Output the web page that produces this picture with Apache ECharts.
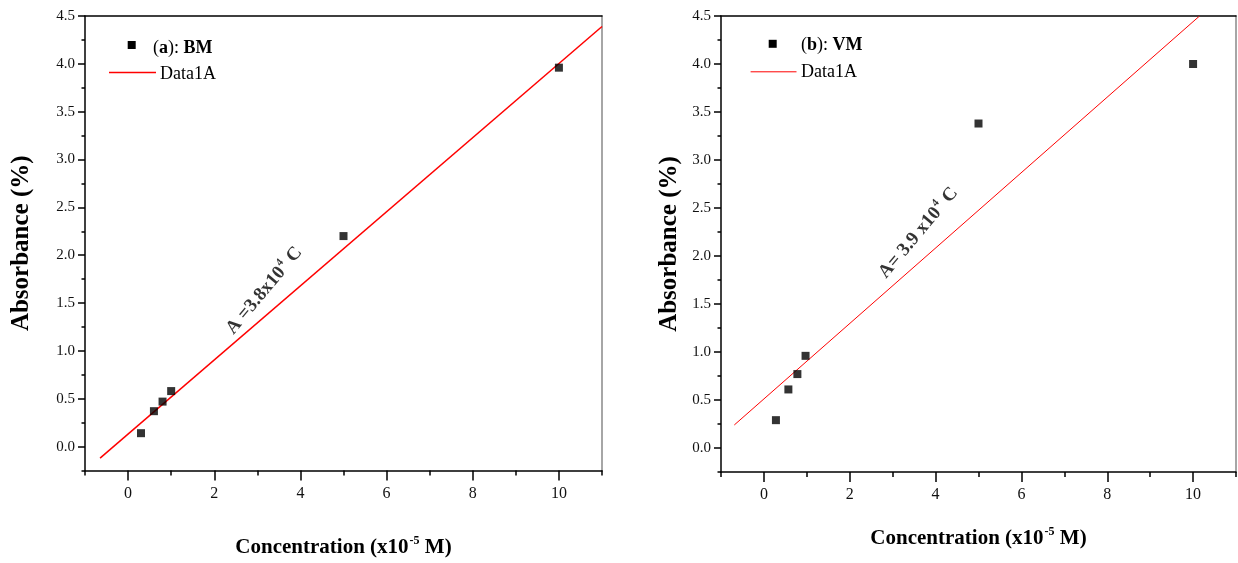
<!DOCTYPE html>
<html>
<head>
<meta charset="utf-8">
<script src="https://cdn.jsdelivr.net/npm/echarts@6/dist/echarts.min.js"></script>
<style>html,body{margin:0;padding:0;background:#fff;}#c{width:1238px;height:563px;}</style>
</head>
<body>
<div id="c"></div>
<script>
// ---- data ----
const xTickValues = [0, 2, 4, 6, 8, 10];
const yTickValues = [0, 0.5, 1, 1.5, 2, 2.5, 3, 3.5, 4, 4.5];
const yTickLabels = ['0.0','0.5','1.0','1.5','2.0','2.5','3.0','3.5','4.0','4.5'];
const xTickLabels = ['0','2','4','6','8','10'];

const bmConc = [0.3, 0.6, 0.8, 1.0, 5.0, 10.0];
const bmAbs  = [0.14, 0.37, 0.47, 0.58, 2.20, 3.96];
const bmFitX = [-0.65, 11.0];
const bmFitY = [-0.12, 4.39];
const bmNote = [3.16, 1.63];

const vmConc = [0.28, 0.57, 0.78, 0.97, 5.0, 10.0];
const vmAbs  = [0.29, 0.61, 0.77, 0.96, 3.38, 4.00];
const vmFitX = [-0.69, 10.15];
const vmFitY = [0.24, 4.50];
const vmNote = [3.6, 2.24];

const FONT = '"Liberation Serif", "Times New Roman", serif';
const chart = echarts.init(document.getElementById('c'));

const grids = [
  {left: 85, top: 16, width: 517, height: 456},
  {left: 721, top: 16, width: 515, height: 456}
];
const xNameGap = [64, 54];
const yNameGap = [51, 39];

function zip(a, b) { return a.map((v, i) => [v, b[i]]); }

const xAxes = [], yAxes = [], series = [];
const xLabelMap = {}; xTickValues.forEach((v, i) => xLabelMap[v] = xTickLabels[i]);
const yLabelMap = {}; yTickValues.forEach((v, i) => yLabelMap[v] = yTickLabels[i]);

grids.forEach((g, gi) => {
  xAxes.push({
    gridIndex: gi, type: 'value', min: -1, max: 11, interval: 1, position: 'bottom',
    name: '{b|Concentration (x10}{s|-5}{b| M)}', nameLocation: 'middle', nameGap: xNameGap[gi],
    nameTextStyle: {rich: {
      b: {fontFamily: FONT, fontWeight: 'bold', fontSize: 21, color: '#000'},
      s: {fontFamily: FONT, fontWeight: 'bold', fontSize: 12, color: '#000', padding: [0, 0, 14, 1]}
    }},
    axisLine: {show: true, onZero: false, lineStyle: {color: '#000', width: 1.5}},
    axisTick: {show: true, length: 10, customValues: xTickValues, lineStyle: {color: '#000', width: 1.5}},
    axisLabel: {customValues: xTickValues, formatter: v => xLabelMap[v] ?? '', margin: 15,
      fontFamily: FONT, fontSize: 16, color: '#111'},
    splitLine: {show: false}
  });
  xAxes.push({
    gridIndex: gi, type: 'value', min: -1, max: 11, interval: 1, position: 'bottom',
    axisLine: {show: false, onZero: false},
    axisTick: {show: true, length: 5, lineStyle: {color: '#000', width: 1.5}},
    axisLabel: {show: false}, splitLine: {show: false}
  });
  xAxes.push({
    gridIndex: gi, type: 'value', min: -1, max: 11, position: 'top',
    axisLine: {show: true, onZero: false, lineStyle: {color: '#000', width: 1.5}},
    axisTick: {show: false}, axisLabel: {show: false}, splitLine: {show: false}
  });
  yAxes.push({
    gridIndex: gi, type: 'value', min: -0.25, max: 4.5, interval: 0.25, position: 'left',
    name: 'Absorbance (%)', nameLocation: 'middle', nameGap: yNameGap[gi],
    nameTextStyle: {fontFamily: FONT, fontWeight: 'bold', fontSize: 25, color: '#000'},
    axisLine: {show: true, onZero: false, lineStyle: {color: '#000', width: 1.5}},
    axisTick: {show: true, length: 7, customValues: yTickValues, lineStyle: {color: '#000', width: 1.5}},
    axisLabel: {customValues: yTickValues, formatter: v => yLabelMap[v] ?? '', margin: 10,
      fontFamily: FONT, fontSize: 15, color: '#111'},
    splitLine: {show: false}
  });
  yAxes.push({
    gridIndex: gi, type: 'value', min: -0.25, max: 4.5, interval: 0.25, position: 'left',
    axisLine: {show: false, onZero: false},
    axisTick: {show: true, length: 3.5, lineStyle: {color: '#000', width: 1.5}},
    axisLabel: {show: false}, splitLine: {show: false}
  });
  yAxes.push({
    gridIndex: gi, type: 'value', min: -0.25, max: 4.5, position: 'right',
    axisLine: {show: true, onZero: false, lineStyle: {color: '#888', width: 1.5}},
    axisTick: {show: false}, axisLabel: {show: false}, splitLine: {show: false}
  });
});

const sets = [
  {conc: bmConc, abs: bmAbs, fx: bmFitX, fy: bmFitY, note: bmNote, lw: 1.5,
   text: '{t|A =3.8x10}{s|4}{t| C}'},
  {conc: vmConc, abs: vmAbs, fx: vmFitX, fy: vmFitY, note: vmNote, lw: 1,
   text: '{t|A= 3.9 x10}{s|4}{t| C}'}
];
sets.forEach((s, gi) => {
  const xi = gi * 3, yi = gi * 3;
  series.push({
    type: 'line', xAxisIndex: xi, yAxisIndex: yi, data: zip(s.fx, s.fy),
    symbol: 'none', lineStyle: {color: '#ff0000', width: s.lw}, silent: true, z: 2
  });
  series.push({
    type: 'scatter', xAxisIndex: xi, yAxisIndex: yi, data: zip(s.conc, s.abs),
    symbol: 'rect', symbolSize: 8, itemStyle: {color: '#000'}, silent: true, z: 3
  });
  series.push({
    type: 'scatter', xAxisIndex: xi, yAxisIndex: yi, data: [s.note],
    symbolSize: 0, silent: true, z: 4,
    label: {show: true, position: 'inside', rotate: 50, formatter: s.text, color: '#000',
      rich: {
        t: {fontFamily: FONT, fontWeight: 'bold', fontSize: 19, color: '#000'},
        s: {fontFamily: FONT, fontWeight: 'bold', fontSize: 11, color: '#000', padding: [0, 1, 12, 1]}
      }}
  });
});

function legendGroup(sqX, sqY, t1X, t1Y, lx1, lx2, ly, t2X, t2Y, lw, letter, name) {
  const rich = {
    n: {fontFamily: FONT, fontSize: 18, color: '#000'},
    b: {fontFamily: FONT, fontSize: 18, fontWeight: 'bold', color: '#000'}
  };
  return [
    {type: 'rect', shape: {x: sqX - 4, y: sqY - 4, width: 8, height: 8}, style: {fill: '#000'}},
    {type: 'text', x: t1X, y: t1Y, style: {text: '{n|(}{b|' + letter + '}{n|): }{b|' + name + '}', rich: rich,
      verticalAlign: 'middle', align: 'left'}},
    {type: 'line', shape: {x1: lx1, y1: ly, x2: lx2, y2: ly}, style: {stroke: '#ff0000', lineWidth: lw}},
    {type: 'text', x: t2X, y: t2Y, style: {text: 'Data1A', fontFamily: FONT, fontSize: 18, fill: '#000',
      verticalAlign: 'middle', align: 'left'}}
  ];
}

chart.setOption({
  animation: false,
  backgroundColor: '#fff',
  grid: grids,
  xAxis: xAxes,
  yAxis: yAxes,
  series: series,
  graphic: [].concat(
    legendGroup(131.7, 45, 153, 48, 109, 156, 72.5, 160, 74, 1.5, 'a', 'BM'),
    legendGroup(772.7, 43.8, 801, 45, 750.6, 796.5, 71.8, 801, 72, 1, 'b', 'VM')
  )
});
</script>
</body>
</html>
